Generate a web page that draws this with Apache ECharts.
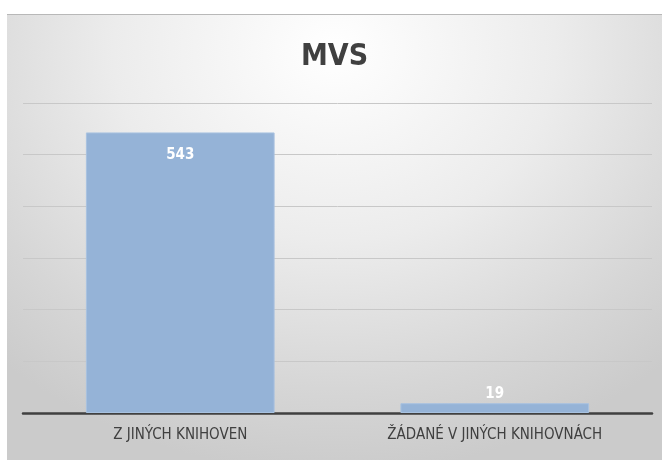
<!DOCTYPE html>
<html>
<head>
<meta charset="utf-8">
<style>
  html, body { margin: 0; padding: 0; background: #fff; }
  #container {
    position: absolute; left: 7px; top: 14px; width: 655px; height: 446px;
    border-top: 1px solid #b8b8b8; box-sizing: border-box;
    background: radial-gradient(ellipse 75% 95% at 50% 8%, #ffffff 0%, #ececec 45%, #d6d6d6 80%, #cbcbcb 100%);
  }
</style>
</head>
<body>
<div id="container"></div>
<script src="https://cdn.jsdelivr.net/npm/echarts@6/dist/echarts.min.js"></script>
<script>
  const categories = ['Z JINÝCH KNIHOVEN', 'ŽÁDANÉ V JINÝCH KNIHOVNÁCH'];
  const values = [543, 19];
  const labelPositions = ['insideTop', 'top'];
  const yMax = 600;
  const yStep = 100;

  const font = '"Liberation Sans Narrow", "DejaVu Sans Condensed", sans-serif';
  const chart = echarts.init(document.getElementById('container'));
  chart.setOption({
    backgroundColor: 'transparent',
    animation: false,
    title: {
      text: 'MVS',
      left: 'center',
      top: 22,
      textStyle: { fontFamily: font, fontSize: 30, fontWeight: 'bold', color: '#404040' }
    },
    grid: { left: 16, right: 10, top: 88, bottom: 47 },
    xAxis: {
      type: 'category',
      data: categories,
      axisLine: { lineStyle: { color: '#404040', width: 2.5 } },
      axisTick: { show: false },
      axisLabel: { fontFamily: font, fontSize: 15, color: '#404040', margin: 15 }
    },
    yAxis: {
      type: 'value',
      min: 0, max: yMax, interval: yStep,
      axisLabel: { show: false },
      axisLine: { show: false },
      axisTick: { show: false },
      splitLine: { lineStyle: { color: '#c8c8c8', width: 1 } }
    },
    series: [{
      type: 'bar',
      barWidth: '60%',
      itemStyle: { color: '#95b3d7', borderColor: '#a8c2e0', borderWidth: 1 },
      data: values.map((v, i) => ({
        value: v,
        label: {
          show: true,
          position: labelPositions[i],
          distance: labelPositions[i] === 'top' ? 2 : 15,
          color: '#fff',
          fontFamily: font,
          fontSize: 15,
          fontWeight: 'bold'
        }
      }))
    }]
  });
</script>
</body>
</html>
